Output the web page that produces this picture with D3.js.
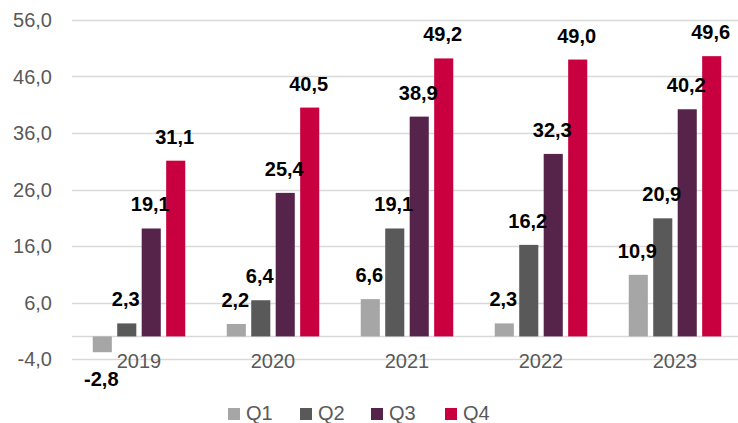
<!DOCTYPE html>
<html>
<head>
<meta charset="utf-8">
<script src="https://cdn.jsdelivr.net/npm/d3@7"></script>
<style>
  html, body { margin: 0; padding: 0; background: #fff; }
  svg { display: block; font-family: "Liberation Sans", Arial, sans-serif; }
</style>
</head>
<body>
<svg id="chart" width="738" height="423"></svg>
<script>
// data
const years = ['2019', '2020', '2021', '2022', '2023'];
const quarters = ['Q1', 'Q2', 'Q3', 'Q4'];
const q1 = [-2.8, 2.2, 6.6, 2.3, 10.9];
const q2 = [2.3, 6.4, 19.1, 16.2, 20.9];
const q3 = [19.1, 25.4, 38.9, 32.3, 40.2];
const q4 = [31.1, 40.5, 49.2, 49.0, 49.6];
const yTicks = [-4, 6, 16, 26, 36, 46, 56];
const colors = ['#a6a6a6', '#595959', '#56234b', '#c8003f'];

const series = [q1, q2, q3, q4];
const rows = years.map((yr, i) => ({
  year: yr,
  values: quarters.map((q, j) => ({ q, v: series[j][i] }))
}));

const svg = d3.select('svg#chart');
const locale = d3.formatLocale({ decimal: ',', thousands: '.', grouping: [3], currency: ['', ''], minus: '-' });
const fmt = locale.format('.1f');

const y = d3.scaleLinear().domain([-4, 56]).range([359, 20]);
const x = d3.scaleBand().domain(years).range([72, 742]).padding(0);
const xq = d3.scaleBand().domain(quarters).range([0, 92.5]).paddingInner(0.22).paddingOuter(0);

// gridlines
svg.append('g')
  .selectAll('line')
  .data(yTicks.concat([0]))
  .join('line')
  .attr('x1', 72).attr('x2', 738)
  .attr('y1', d => Math.round(y(d)) + 0.5)
  .attr('y2', d => Math.round(y(d)) + 0.5)
  .attr('stroke', '#d9d9d9')
  .attr('stroke-width', 1.5);

// y tick labels
svg.append('g')
  .selectAll('text')
  .data(yTicks)
  .join('text')
  .attr('x', 52)
  .attr('y', d => y(d) + 7)
  .attr('text-anchor', 'end')
  .attr('font-size', 20)
  .attr('fill', '#595959')
  .text(d => fmt(d));

// bars
const groups = svg.append('g')
  .selectAll('g')
  .data(rows)
  .join('g')
  .attr('transform', d => `translate(${x(d.year) + x.bandwidth() / 2 - 46.25},0)`);

groups.selectAll('rect')
  .data(d => d.values)
  .join('rect')
  .attr('x', d => xq(d.q))
  .attr('width', xq.bandwidth())
  .attr('y', d => y(Math.max(0, d.v)))
  .attr('height', d => Math.abs(y(d.v) - y(0)))
  .attr('fill', (d, i) => colors[i]);

// category labels
svg.append('g')
  .selectAll('text')
  .data(years)
  .join('text')
  .attr('x', d => x(d) + x.bandwidth() / 2)
  .attr('y', 368)
  .attr('text-anchor', 'middle')
  .attr('font-size', 20)
  .attr('fill', '#595959')
  .text(d => d);

// value labels
groups.selectAll('text')
  .data(d => d.values)
  .join('text')
  .attr('x', d => xq(d.q) + xq.bandwidth() / 2 - 1)
  .attr('y', d => d.v >= 0 ? y(d.v) - 17 : y(d.v) + 34)
  .attr('text-anchor', 'middle')
  .attr('font-size', 20)
  .attr('font-weight', 'bold')
  .attr('fill', '#000')
  .text(d => fmt(d.v));

// legend
const legendX = [228, 300, 371, 445];
const legend = svg.append('g')
  .selectAll('g')
  .data(quarters)
  .join('g')
  .attr('transform', (d, i) => `translate(${legendX[i]},408)`);
legend.append('rect')
  .attr('width', 12).attr('height', 12)
  .attr('fill', (d, i) => colors[i]);
legend.append('text')
  .attr('x', 18).attr('y', 12)
  .attr('font-size', 20)
  .attr('fill', '#595959')
  .text(d => d);
</script>
</body>
</html>
